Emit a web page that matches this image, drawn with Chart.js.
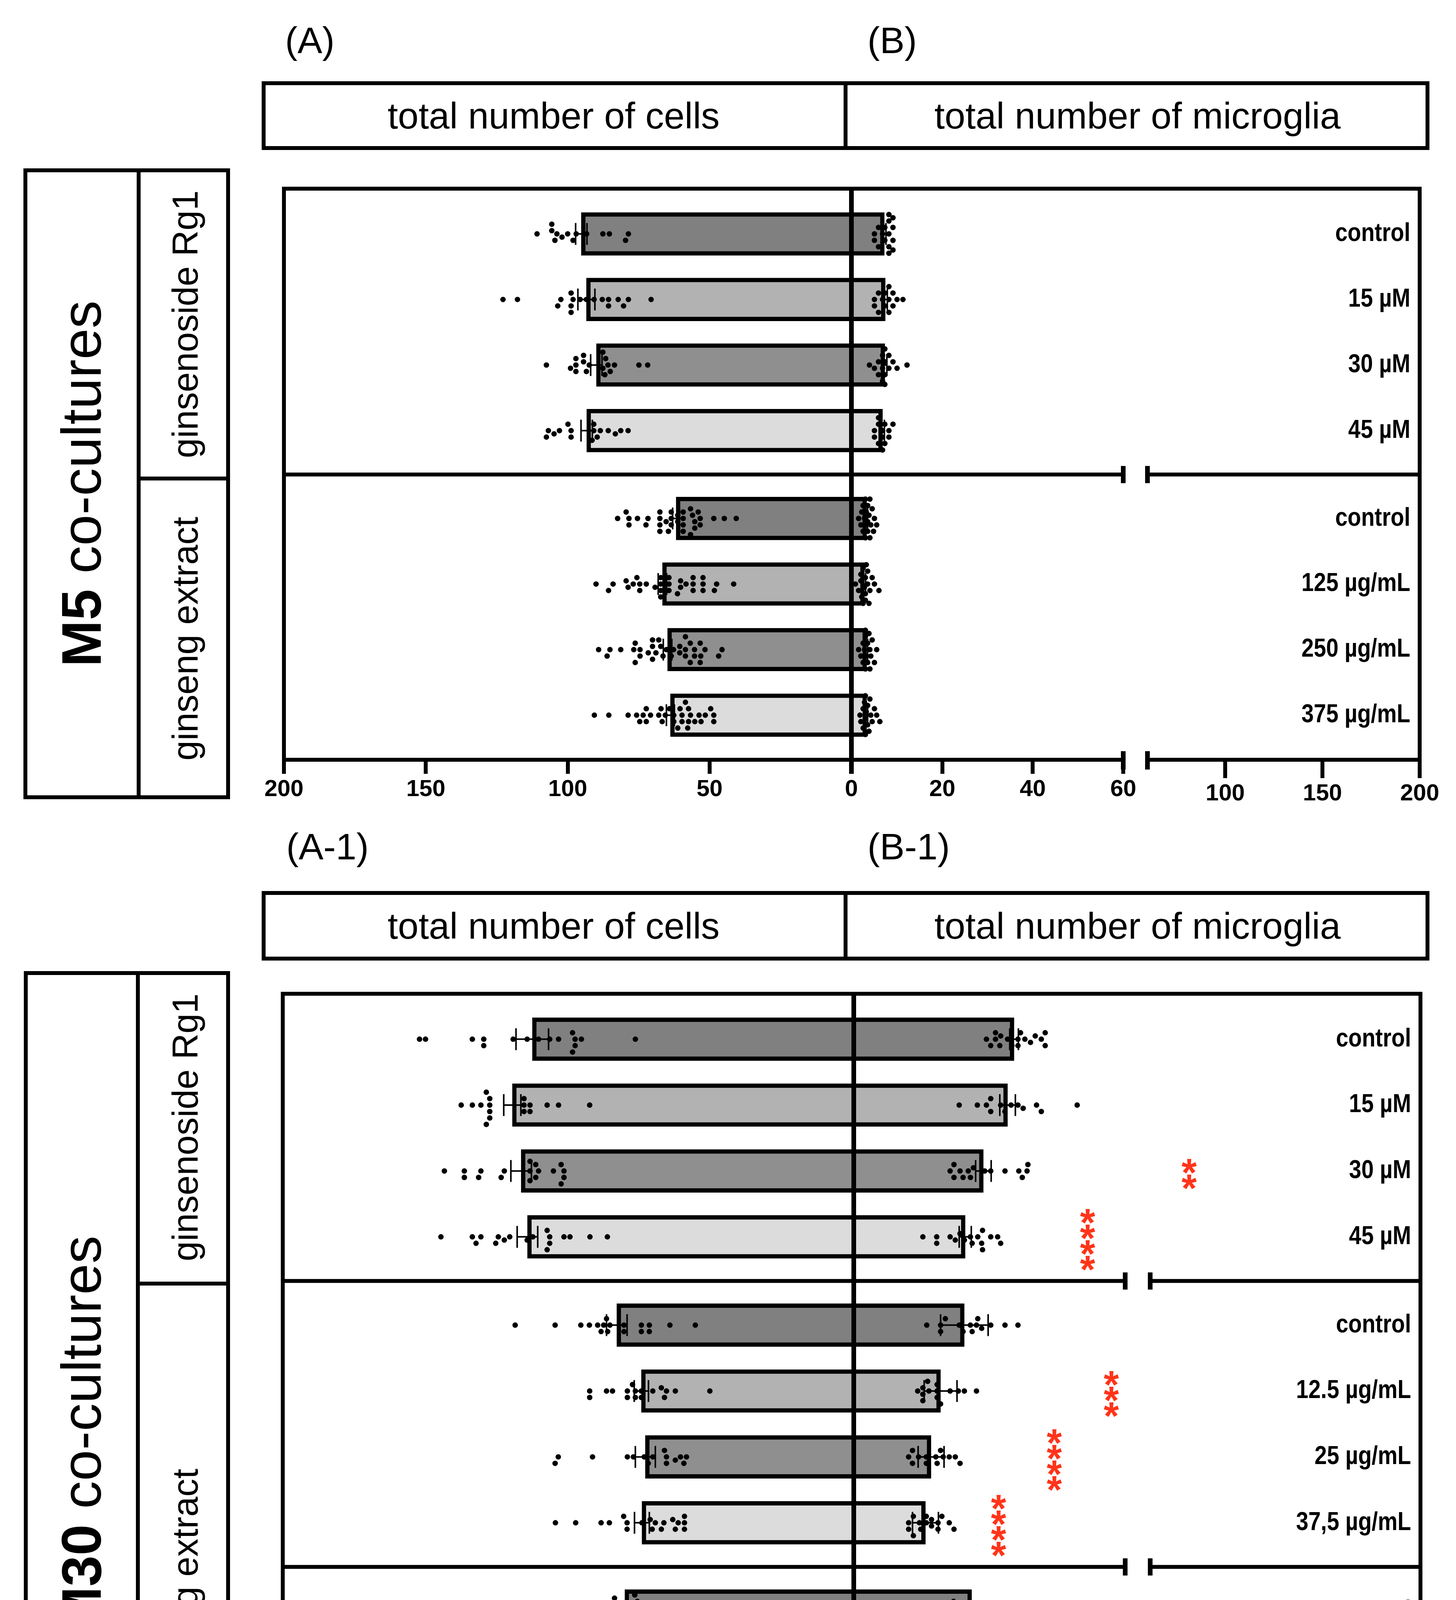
<!DOCTYPE html>
<html>
<head>
<meta charset="utf-8">
<script src="https://cdn.jsdelivr.net/npm/chart.js@4"></script>
<style>
  body { margin: 0; background: #fff; width: 3728px; height: 4889px; position: relative; overflow: hidden;
         font-family: 'Liberation Sans', Arial, sans-serif; color: #000; }
  .box { position: absolute; border: 10px solid #000; box-sizing: border-box; }
  .ln { position: absolute; background: #000; }
  .tag { position: absolute; font-size: 95px; line-height: 1; white-space: nowrap; }
  .head { position: absolute; display: flex; align-items: center; justify-content: center; font-size: 95px; white-space: nowrap; }
  .rot { position: absolute; transform: translate(-50%, -50%) rotate(-90deg); white-space: nowrap; line-height: 1; }
  .big { font-size: 143px; }
  .grp { font-size: 92px; }
  canvas { position: absolute; }
</style>
</head>
<body>

<!-- M5 block -->
<div class="tag" style="left:730px;top:56px">(A)</div>
<div class="tag" style="left:2221px;top:56px">(B)</div>
<div class="box" style="left:670px;top:208px;width:2990px;height:176px"></div>
<div class="ln" style="left:2160px;top:208px;width:10px;height:176px"></div>
<div class="head" style="left:670px;top:208px;width:1495px;height:176px">total number of cells</div>
<div class="head" style="left:2165px;top:208px;width:1495px;height:176px">total number of microglia</div>

<div class="box" style="left:60px;top:431px;width:529px;height:1615px"></div>
<div class="ln" style="left:350px;top:431px;width:10px;height:1615px"></div>
<div class="ln" style="left:355px;top:1220px;width:234px;height:10px"></div>
<div class="rot big" style="left:208px;top:1238px"><b>M5</b> co-cultures</div>
<div class="rot grp" style="left:474px;top:830px">ginsenoside Rg1</div>
<div class="rot grp" style="left:474px;top:1635px">ginseng extract</div>

<!-- M30 block -->
<div class="tag" style="left:733px;top:2120px">(A-1)</div>
<div class="tag" style="left:2221px;top:2120px">(B-1)</div>
<div class="box" style="left:670px;top:2281px;width:2990px;height:178px"></div>
<div class="ln" style="left:2160px;top:2281px;width:10px;height:178px"></div>
<div class="head" style="left:670px;top:2281px;width:1495px;height:178px">total number of cells</div>
<div class="head" style="left:2165px;top:2281px;width:1495px;height:178px">total number of microglia</div>

<div class="box" style="left:61px;top:2486px;width:528px;height:2373px"></div>
<div class="ln" style="left:348px;top:2486px;width:10px;height:2373px"></div>
<div class="ln" style="left:353px;top:3281px;width:236px;height:10px"></div>
<div class="rot big" style="left:208px;top:3672px"><b>M30</b> co-cultures</div>
<div class="rot grp" style="left:474px;top:2886px">ginsenoside Rg1</div>
<div class="rot grp" style="left:474px;top:4072px">ginseng extract</div>

<script>
// ---------- data ----------
const rowsM5 = ['control', '15 µM', '30 µM', '45 µM', 'control', '125 µg/mL', '250 µg/mL', '375 µg/mL'];
const rowsM30 = ['control', '15 µM', '30 µM', '45 µM', 'control', '12.5 µg/mL', '25 µg/mL', '37,5 µg/mL',
                 'control', '125 µg/mL', '250 µg/mL', '375 µg/mL'];

const cellTicks = [0, 50, 100, 150, 200];
const microTicksLow = [0, 20, 40, 60];
const microTicksHigh = [100, 150, 200];

// M5: total number of cells
const cellsM5Mean = [95.2, 93.4, 89.9, 93.3, 61.8, 66.6, 64.8, 63.8];
const cellsM5Sem = [2.0, 3.0, 2.0, 2.0, 1.2, 1.5, 1.5, 1.4];
const cellsM5Dots = [
  [110.8, 105.6, 105.6, 103.8, 104.5, 102, 100, 98.1, 97, 93.3, 87.6, 85.3, 79.6, 78.6],
  [122.8, 117.7, 103.5, 102.4, 98.8, 98.8, 98.1, 98.8, 95.6, 93.4, 90.7, 87.8, 85.6, 85.6, 82.2, 80.3, 78.6, 70.6],
  [107.5, 99, 97.1, 97.1, 97.1, 94.4, 94.4, 93.4, 92.4, 87.6, 87.6, 86.9, 86.6, 85.8, 85, 83.5, 74.9, 71.8],
  [107.5, 106.8, 104.8, 102.9, 99.9, 98.8, 98.8, 91.4, 90.8, 90.8, 89.6, 88.5, 85.7, 83.2, 81.3, 78.7],
  [82.4, 79.4, 78.4, 78.4, 75.4, 72.4, 71.7, 67.5, 67.5, 67.5, 67.5, 65.3, 64.5, 63.5, 63.5, 63.5, 61.2, 61.2,
   59.3, 59.3, 59.3, 59.3, 56.7, 56.7, 56.0, 55.2, 55.2, 54.0, 53.3, 53.3, 48.5, 44.8, 40.6],
  [90, 85.6, 84, 79.4, 78.7, 76.9, 75.6, 74.6, 74.6, 72.3, 69.2, 67.2, 67.2, 67.2, 67.2, 64.3, 64.3, 64.3,
   61.3, 60.2, 60.2, 58.3, 55.8, 55.8, 55.8, 52.3, 52.3, 52.3, 48.3, 47.5, 41.5],
  [89.1, 86.1, 85.1, 81.3, 76.7, 76.2, 76.2, 74.5, 74.5, 71.6, 70.1, 70.1, 70.1, 68.9, 67.9, 67.2, 66.4, 65.2,
   63.5, 62.7, 60.5, 60.5, 58.5, 58.5, 58.5, 56.8, 56.8, 55.3, 55.3, 53.3, 53.3, 53.1, 51.6, 46.8, 45.6],
  [90.6, 85.5, 78.7, 75.7, 74.6, 73.4, 72.3, 72.3, 70.8, 67.9, 67.1, 66.7, 65.6, 64.1, 62.6, 62.6, 61.2, 60.4,
   59.7, 59.7, 58.5, 57.7, 57.4, 57.4, 56.7, 55.2, 53.7, 53.0, 51.5, 49.6, 48.5, 48.5]
];

// M5: total number of microglia
const microM5Mean = [7.2, 7.4, 7.3, 6.8, 3.3, 2.8, 3.3, 3.3];
const microM5Sem = [0.35, 0.45, 0.45, 0.4, 0.2, 0.25, 0.2, 0.2];
const microM5Dots = [
  [5.0, 5.0, 5.9, 5.9, 6.8, 7.3, 7.3, 8.2, 8.2, 8.2, 8.2, 8.2, 9.1, 9.1, 9.1, 9.1],
  [5.0, 5.0, 5.9, 5.9, 6.8, 7.3, 7.3, 8.2, 8.2, 8.2, 9.1, 9.1, 10.0, 11.3],
  [3.9, 5.0, 5.9, 5.9, 6.8, 6.8, 6.8, 7.3, 7.3, 7.3, 7.3, 8.2, 8.2, 9.1, 10.0, 12.2],
  [5.0, 5.0, 5.9, 5.9, 5.9, 6.8, 6.8, 6.8, 7.3, 7.3, 8.2, 8.2, 9.1],
  [1.5, 2.0, 2.2, 2.5, 2.5, 2.8, 3.0, 3.0, 3.0, 3.2, 3.5, 3.5, 3.5, 3.8, 4.0, 4.0, 4.2, 4.5, 4.8, 5.0, 5.5],
  [0.8, 1.5, 2.0, 2.0, 2.2, 2.5, 2.5, 2.8, 3.0, 3.0, 3.0, 3.2, 3.5, 3.5, 3.8, 4.0, 4.5, 5.0, 6.0],
  [1.5, 2.0, 2.5, 2.5, 2.8, 3.0, 3.0, 3.0, 3.2, 3.5, 3.5, 3.8, 4.0, 4.0, 4.2, 4.5, 5.0, 5.5],
  [1.8, 2.0, 2.5, 2.5, 2.8, 3.0, 3.0, 3.0, 3.2, 3.5, 3.5, 3.8, 4.0, 4.2, 4.5, 5.0, 5.5, 6.2]
];

// M30: total number of cells
const cellsM30Mean = [112.6, 119.6, 116.5, 114.3, 83.0, 74.4, 73.0, 74.2, 80.2, 80.5, 77.0, 76.2];
const cellsM30Sem = [5.7, 3.0, 3.6, 3.6, 3.6, 2.5, 3.5, 2.6, 1.6, 1.8, 1.8, 2.0];
const cellsM30Dots = [
  [152.1, 150.0, 133.6, 129.6, 129.6, 119.3, 114.4, 110.4, 106.5, 103.4, 98.5, 98.5, 97.6, 97.6, 95.4, 76.5],
  [137.5, 133.6, 130.6, 128.7, 128.7, 127.5, 127.5, 127.5, 127.5, 115.5, 115.5, 115.5, 113.4, 113.4, 107.4, 103.4, 92.5],
  [143.4, 136.4, 136.4, 131.4, 130.6, 123.5, 122.4, 113.4, 113.4, 113.4, 111.4, 111.4, 110.4, 105.2, 102.5, 102.5, 101.5, 101.5],
  [144.6, 133.6, 132.3, 130.6, 125.4, 124.5, 122.4, 120.5, 114.4, 112.4, 107.4, 107.4, 106.5, 106.5, 101.5, 99.4, 92.4, 86.3],
  [118.6, 104.6, 95.6, 92.6, 89.7, 88.5, 87.6, 86.6, 86.2, 85.4, 80.5, 80.5, 74.4, 74.4, 71.6, 71.6, 64.4, 55.5],
  [92.5, 92.5, 86.6, 84.5, 79.3, 79.3, 77.5, 76.5, 76.5, 74.4, 74.4, 70.4, 67.4, 66.3, 65.6, 62.5, 50.4],
  [104.6, 103.5, 91.5, 79.3, 77.2, 73.4, 72.0, 70.4, 66.3, 65.6, 65.6, 62.5, 60.7, 59.5, 58.6],
  [104.5, 97.4, 88.5, 85.6, 80.6, 79.4, 79.4, 74.2, 71.3, 70.6, 69.5, 67.4, 66.5, 63.4, 62.5, 61.5, 59.3, 59.3, 59.3],
  [103.9, 96.2, 96.2, 94.0, 94.0, 89.9, 88.8, 88.8, 86.7, 85.8, 84.9, 84.9, 83.8, 82.9, 82.9, 82.9, 81.9, 80.8,
   80.8, 79.9, 77.8, 76.7, 75.8, 75.8, 75.8, 75.8, 74.9, 73.7, 72.9, 71.8, 71.8, 71.8, 68.8, 66.8, 63.8, 61.8],
  [105.9, 103.9, 102.7, 98.9, 97.8, 93.9, 92.8, 88.8, 88.8, 85.8, 84.9, 83.8, 82.6, 80.8, 80.8, 79.9, 78.7, 77.8,
   76.7, 76.7, 75.8, 75.8, 72.9, 70.8, 70.8, 68.6, 68.6, 67.9, 66.8, 63.8, 62.9],
  [99.8, 96.8, 96.8, 94.0, 92.0, 89.9, 88.8, 87.8, 86.9, 86.7, 86.7, 84.9, 82.9, 82.9, 81.9, 80.8, 79.9, 78.7,
   73.7, 71.8, 71.8, 69.8, 68.8, 68.8, 66.8, 65.9, 65.9, 63.8, 63.8, 61.8, 61.8, 59.8, 53.8],
  [103.9, 98.9, 97.7, 94.9, 88.8, 87.8, 86.7, 85.8, 82.9, 80.8, 80.8, 78.7, 76.7, 75.8, 75.8, 73.8, 73.8, 73.8,
   71.8, 71.8, 70.8, 69.8, 69.8, 66.8, 64.8, 63.8, 61.8, 56.8, 55.7, 55.7, 54.7, 54.7]
];

// M30: total number of microglia
const microM30Mean = [37.0, 35.5, 29.9, 25.7, 25.5, 20.0, 17.8, 16.5, 27.2, 29.1, 27.6, 26.7];
const microM30Sem = [1.0, 1.8, 1.8, 1.4, 5.5, 3.8, 3.0, 3.0, 1.0, 1.2, 1.2, 1.3];
const microM30Dots = [
  [30.6, 31.6, 32.7, 32.7, 33.7, 33.9, 35.5, 36.5, 37.9, 37.9, 38.5, 39.5, 40.8, 41.9, 43.3, 44.2, 44.2],
  [24.3, 28.5, 30.6, 31.6, 31.6, 33.9, 34.9, 36.3, 37.9, 39.1, 42.2, 43.3, 51.6],
  [22.2, 23.1, 23.1, 24.5, 25.2, 26.4, 26.9, 27.6, 30.2, 31.6, 34.9, 38.1, 38.9, 40.0, 40.2],
  [15.9, 19.1, 19.1, 22.2, 23.4, 24.5, 25.5, 26.9, 27.3, 28.6, 29.5, 29.7, 29.7, 31.6, 33.2, 33.9],
  [16.8, 20.0, 20.0, 21.1, 24.3, 25.2, 26.9, 27.3, 28.3, 28.6, 29.5, 31.6, 34.9, 37.9],
  [14.7, 15.9, 15.9, 15.9, 17.0, 17.3, 19.2, 19.2, 19.2, 20.0, 22.2, 24.1, 25.5, 28.3],
  [12.6, 13.5, 13.5, 14.9, 16.7, 16.7, 18.9, 19.2, 20.0, 20.6, 22.0, 23.4, 24.5],
  [12.6, 12.6, 13.7, 13.7, 15.1, 15.4, 16.7, 16.7, 17.9, 17.9, 19.4, 19.4, 20.3, 22.0, 23.1],
  [17.9, 19.8, 20.8, 21.0, 22.1, 22.1, 23.0, 23.0, 23.0, 23.9, 25.1, 25.6, 25.8, 26.7, 28.5, 31.0, 31.9,
   33.9, 33.9, 33.9, 35.9, 37.1, 38.0, 38.9],
  [17.1, 18.0, 19.8, 21.7, 21.7, 21.7, 23.7, 23.7, 23.7, 25.8, 25.8, 25.8, 28.0, 28.0, 29.4, 30.8, 30.8, 30.8,
   33.9, 33.9, 33.9, 33.9, 36.7, 36.7, 38.7, 39.9, 39.9, 42.9],
  [18.8, 19.8, 21.0, 22.6, 23.0, 23.9, 23.9, 23.9, 24.9, 25.1, 25.8, 26.7, 27.6, 29.0, 29.0, 30.0, 30.0, 31.0,
   31.0, 33.0, 33.9, 34.9, 36.0, 39.9, 42.1],
  [13.9, 17.9, 19.0, 19.0, 19.0, 19.8, 19.8, 21.0, 21.0, 22.0, 23.0, 23.0, 23.9, 23.9, 25.1, 25.8, 26.7, 28.0,
   28.0, 29.0, 29.0, 29.9, 29.9, 33.9, 33.9, 36.7, 38.0, 43.9, 43.9, 45.8]
];
const microM30Stars = ['', '', '**', '****', '', '***', '****', '****', '', '', '', ''];

// ---------- layout / style ----------
const TICK_FONT = "'Liberation Sans', Arial, sans-serif";
const shades = ['#808080', '#b2b2b2', '#8f8f8f', '#dcdcdc'];
const GROUP_GAP = 0.34;

const panels = [
  { top: 483, bottom: 1945, L: [727, 2180], A: [2181, 2876], B: [2938, 3635], sepShift: 0, groups: [4, 4],
    rows: rowsM5, cells: [cellsM5Mean, cellsM5Sem, cellsM5Dots], micro: [microM5Mean, microM5Sem, microM5Dots],
    stars: null, starAt: null },
  { top: 2544, bottom: 4745, L: [724, 2186], A: [2187, 2851], B: [2915, 3637], sepShift: 30, groups: [4, 4, 4],
    rows: rowsM30, cells: [cellsM30Mean, cellsM30Sem, cellsM30Dots], micro: [microM30Mean, microM30Sem, microM30Dots],
    stars: microM30Stars, starAt: [0, 0, 77.5, 54.0, 0, 59.5, 46.3, 33.4, 0, 0, 0, 0] }
];

function rowPositions(groups) {
  const pos = [];
  groups.forEach((n, g) => { for (let i = 0; i < n; i++) pos.push(pos.length + g * GROUP_GAP); });
  return pos;
}

const framePlugin = {
  id: 'frame',
  afterDatasetsDraw(chart, args, o) {
    const { ctx, chartArea: a, scales: { x, y } } = chart;
    const line = (x1, y1, x2, y2, w) => {
      ctx.lineWidth = w || 10;
      ctx.beginPath(); ctx.moveTo(x1, y1); ctx.lineTo(x2, y2); ctx.stroke();
    };
    ctx.save();
    ctx.strokeStyle = '#000';
    ctx.lineCap = 'butt';

    // error bars (mean ± SEM)
    if (o.mean) {
      o.mean.forEach((m, i) => {
        const py = y.getPixelForValue(o.pos[i]);
        const xa = x.getPixelForValue(m - o.sem[i]);
        const xb = x.getPixelForValue(m + o.sem[i]);
        line(xa, py, xb, py, 4);
        line(xa, py - 28, xa, py + 28, 4);
        line(xb, py - 28, xb, py + 28, 4);
      });
    }

    // box lines
    line(a.left - 5, a.top, a.right + (o.topExt || 0) + 5, a.top);
    if (o.left) line(a.left, a.top - 5, a.left, a.bottom);
    if (o.right) line(a.right, a.top - 5, a.right, a.bottom);
    o.seps.forEach(s => {
      const py = y.getPixelForValue(s);
      const xa = o.capLeft ? a.left + o.shift : a.left - 5;
      const xb = o.capRight ? a.right + o.shift : a.right + 5;
      line(xa, py, xb, py);
      if (o.capLeft) line(xa, py - 22, xa, py + 22, 12);
      if (o.capRight) line(xb, py - 22, xb, py + 22, 12);
    });
    if (o.capLeft) line(a.left, a.bottom - 22, a.left, a.bottom + 25, 12);
    if (o.capRight) line(a.right, a.bottom - 22, a.right, a.bottom + 25, 12);
    if (o.zero) {
      const zx = x.getPixelForValue(0);
      line(zx, a.top - 5, zx, a.bottom + 36, 12);
    }

    // row labels (horizontally squeezed to mimic a condensed face)
    if (o.labels) {
      ctx.fillStyle = '#000';
      ctx.font = 'bold 66px ' + TICK_FONT;
      ctx.textAlign = 'right';
      ctx.textBaseline = 'middle';
      o.labels.forEach((t, i) => {
        ctx.save();
        ctx.translate(a.right - 24, y.getPixelForValue(o.pos[i]));
        ctx.scale(0.86, 1);
        ctx.fillText(t, 0, 0);
        ctx.restore();
      });
    }

    // significance stars, stacked vertically
    if (o.stars) {
      ctx.fillStyle = '#ff3419';
      ctx.font = 'bold 100px ' + TICK_FONT;
      ctx.textAlign = 'center';
      ctx.textBaseline = 'alphabetic';
      o.stars.forEach((s, i) => {
        if (!s) return;
        const cx = x.getPixelForValue(o.starAt[i]);
        const cy = y.getPixelForValue(o.pos[i]);
        for (let k = 0; k < s.length; k++) {
          const sy = cy + (k - (s.length - 1) / 2) * 40;
          ctx.fillText('*', cx, sy + 58);
        }
      });
    }
    ctx.restore();
  }
};

function addCanvas(x, y, w, h) {
  const c = document.createElement('canvas');
  c.width = w; c.height = h;
  c.style.left = x + 'px'; c.style.top = y + 'px';
  c.style.width = w + 'px'; c.style.height = h + 'px';
  document.body.appendChild(c);
  return c;
}

// beeswarm: spread dots with equal-ish values vertically, in pixel space,
// kept within the bar height (dense groups overlap instead of spilling out)
function swarm(chart, rowPos, dots) {
  const xs = chart.scales.x, ys = chart.scales.y;
  const unit = Math.abs(ys.getPixelForValue(1) - ys.getPixelForValue(0));
  const D = 15, LIM = 52;
  const pts = [];
  dots.forEach((list, r) => {
    const placed = [];
    list.slice().sort((a, b) => a - b).forEach(v => {
      const px = xs.getPixelForValue(v);
      let best = 0, bestGap = -1;
      for (let k = 0; k < 60; k++) {
        const off = (k % 2 ? 1 : -1) * Math.ceil(k / 2) * D * 0.55;
        if (Math.abs(off) > LIM) break;
        const gap = placed.reduce((m, p) => Math.min(m, Math.hypot(p.x - px, p.y - off)), Infinity);
        if (gap >= D) { best = off; break; }
        if (gap > bestGap) { bestGap = gap; best = off; }
      }
      placed.push({ x: px, y: best });
      pts.push({ x: v, y: rowPos[r] + best / unit });
    });
  });
  chart.data.datasets[0].data = pts;
  chart.update('none');
}

function makeChart(p, part) {
  const [x0, x1] = p[part];
  const pos = rowPositions(p.groups);
  const seps = [];
  let idx = 0;
  p.groups.slice(0, -1).forEach(n => { idx += n; seps.push((pos[idx - 1] + pos[idx]) / 2); });
  const yMin = -0.69, yMax = pos[pos.length - 1] + 0.68;

  const pad = { left: 110, right: part === 'A' ? 300 : 110, top: 40, bottom: 10 };
  const axisH = 170;
  const canvas = addCanvas(x0 - pad.left, p.top - pad.top,
    x1 - x0 + pad.left + pad.right, p.bottom - p.top + pad.top + pad.bottom + axisH);

  let series = null, min, max, ticks, tickLen = 36, hideZero = false;
  if (part === 'L') { series = p.cells; min = 0; max = 200; ticks = cellTicks; }
  if (part === 'A') { series = p.micro; min = 0; max = 60; ticks = microTicksLow; hideZero = true; }
  if (part === 'B') { min = 60; max = 200; ticks = microTicksHigh; tickLen = 47; }

  const datasets = [];
  if (series) {
    datasets.push({
      type: 'scatter', data: [], order: 0, clip: false,
      pointRadius: 7, pointHoverRadius: 7, backgroundColor: '#000', borderWidth: 0
    });
    datasets.push({
      type: 'bar', indexAxis: 'y', order: 1,
      data: series[0].map((m, i) => ({ x: m, y: pos[i] })),
      backgroundColor: pos.map((_, i) => shades[i % 4]),
      borderColor: '#000', borderWidth: 11, borderSkipped: 'start',
      barThickness: 110
    });
  }

  const frame = { seps, pos, shift: p.sepShift };
  if (part === 'L') Object.assign(frame, { left: true, zero: true });
  if (part === 'A') Object.assign(frame, { capRight: true, topExt: p.B[0] - p.A[1] });
  if (part === 'B') Object.assign(frame, { right: true, capLeft: true, labels: p.rows });
  if (series) Object.assign(frame, { mean: series[0], sem: series[1] });
  if (part === 'A' && p.stars) Object.assign(frame, { stars: p.stars, starAt: p.starAt });

  const chart = new Chart(canvas, {
    type: 'bar',
    data: { datasets },
    plugins: [framePlugin],
    options: {
      responsive: false,
      devicePixelRatio: 1,
      animation: false,
      events: [],
      layout: { padding: pad },
      plugins: { legend: { display: false }, tooltip: { enabled: false }, frame },
      scales: {
        x: {
          type: 'linear', min, max, reverse: part === 'L', position: 'bottom', offset: false,
          border: { display: true, width: 10, color: '#000' },
          grid: { display: true, offset: false, drawOnChartArea: false, drawTicks: true, tickLength: tickLen,
                  tickWidth: 10, tickColor: '#000', color: '#000', lineWidth: 10 },
          ticks: {
            color: '#000', padding: 4, maxRotation: 0, autoSkip: false,
            font: { family: TICK_FONT, size: 60, weight: 'bold' },
            callback: v => (hideZero && v === 0) ? '' : String(v)
          },
          afterBuildTicks: s => { s.ticks = ticks.map(v => ({ value: v })); },
          afterFit: s => { s.height = axisH; }
        },
        y: { type: 'linear', display: false, min: yMin, max: yMax, reverse: true,
             offset: false, grid: { offset: false } }
      }
    }
  });
  if (series) swarm(chart, pos, series[2]);
  return chart;
}

panels.forEach(p => ['L', 'A', 'B'].forEach(part => makeChart(p, part)));
</script>
</body>
</html>
